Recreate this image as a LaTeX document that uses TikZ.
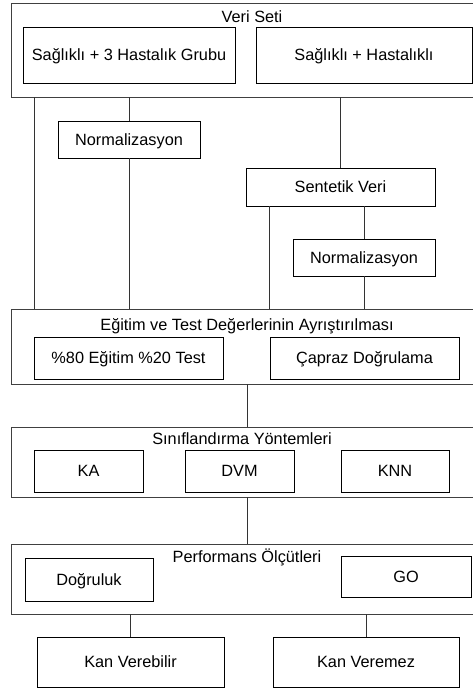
\documentclass[tikz,border=0pt]{standalone}
\usepackage{fontspec}
\setmainfont{Liberation Sans}
\usepackage{tikz}
\usetikzlibrary{positioning}

\tikzset{
  kutu/.style={draw=black, line width=0.8pt, rectangle, inner sep=0pt,
    text height=13.8pt, text depth=2pt},
  dis/.style={draw=black!75, line width=0.9pt, rectangle, inner sep=0pt,
    minimum width=472pt},
  baslik/.style={inner sep=0pt, text height=13.8pt, text depth=2pt},
  hat/.style={draw=black!80, line width=0.8pt}
}

\begin{document}
\begin{tikzpicture}[x=1pt, y=-1pt]

  \fontsize{16.3pt}{19pt}\selectfont

  \useasboundingbox (0,0) rectangle (473,690);

  % dis kutular
  \node[dis, minimum height=94pt] (veri) at (247,50) {};
  \node[dis, minimum height=75pt] (egitim) at (247,346.5) {};
  \node[dis, minimum height=70pt] (sinif) at (247,462) {};
  \node[dis, minimum height=70pt] (perf) at (247,579) {};

  \node[baslik] (veriT) at (252,16.5) {Veri Seti};
  \node[baslik] (egitimT) at (247,325) {Eğitim ve Test Değerlerinin Ayrıştırılması};
  \node[baslik] (sinifT) at (242,439) {Sınıflandırma Yöntemleri};
  \node[baslik] (perfT) at (247,557) {Performans Ölçütleri};

  % veri seti
  \node[kutu, minimum width=212pt, minimum height=56pt] (grup) at (129,55) {Sağlıklı + 3 Hastalık Grubu};
  \node[kutu, minimum width=216pt, minimum height=56pt] (ikili) at (364,55) {Sağlıklı + Hastalıklı};

  \node[kutu, minimum width=142pt, minimum height=37pt] (normA) at (129,139.5) {Normalizasyon};
  \node[kutu, minimum width=189pt, minimum height=38pt] (sentetik) at (340.5,187) {Sentetik Veri};
  \node[kutu, minimum width=142pt, minimum height=37pt] (normB) at (364,257.5) {Normalizasyon};

  % ayristirma
  \node[kutu, minimum width=189pt, minimum height=42pt] (yuzde) at (128.5,358) {\%80 Eğitim \%20 Test};
  \node[kutu, minimum width=189pt, minimum height=42pt] (capraz) at (364.5,358) {Çapraz Doğrulama};

  % yontemler
  \node[kutu, minimum width=109pt, minimum height=42pt] (ka) at (88.5,471) {KA};
  \node[kutu, minimum width=109pt, minimum height=42pt] (dvm) at (239.5,471) {DVM};
  \node[kutu, minimum width=108pt, minimum height=42pt] (knn) at (395,471) {KNN};

  % olcutler
  \node[kutu, minimum width=128pt, minimum height=43pt] (dogruluk) at (89,579.5) {Doğruluk};
  \node[kutu, minimum width=130pt, minimum height=41pt] (go) at (406,576.5) {GO};

  \node[kutu, minimum width=187pt, minimum height=50pt] (verebilir) at (130.5,662) {Kan Verebilir};
  \node[kutu, minimum width=186pt, minimum height=50pt] (veremez) at (366,662) {Kan Veremez};

  % baglantilar
  \draw[hat] ([xshift=24pt]veri.south west) -- ([xshift=24pt]egitim.north west);
  \draw[hat] (normA.north |- veri.south) -- (normA.north);
  \draw[hat] (normA.south) -- (normA.south |- egitim.north);
  \draw[hat] (sentetik.north |- veri.south) -- (sentetik.north);
  \draw[hat] ([xshift=24pt]sentetik.south west) -- ([xshift=24pt]sentetik.south west |- egitim.north);
  \draw[hat] (normB.north |- sentetik.south) -- (normB.north);
  \draw[hat] (normB.south) -- (normB.south |- egitim.north);
  \draw[hat] (egitim.south) -- (sinif.north);
  \draw[hat] (sinif.south) -- (perf.north);
  \draw[hat] (verebilir.north |- perf.south) -- (verebilir.north);
  \draw[hat] (veremez.north |- perf.south) -- (veremez.north);

\end{tikzpicture}
\end{document}
